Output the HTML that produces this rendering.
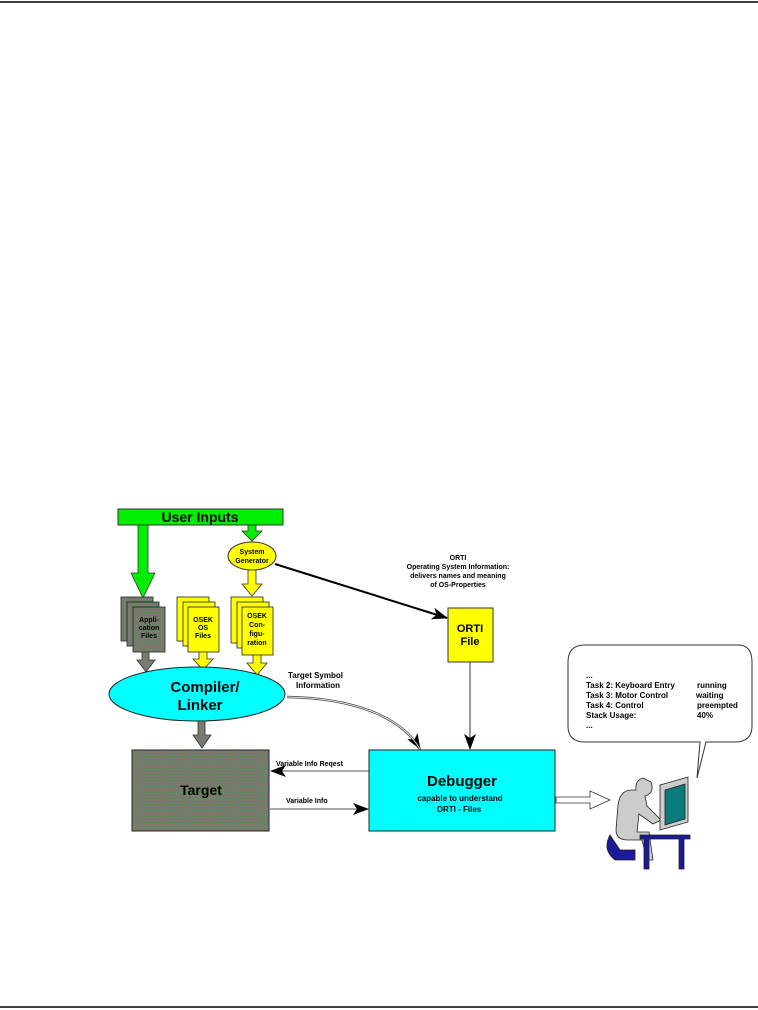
<!DOCTYPE html>
<html><head><style>body{margin:0;background:#fff}svg{display:block}text{font-family:"Liberation Sans",sans-serif;font-weight:bold}</style></head>
<body>
<svg width="758" height="1010" viewBox="0 0 758 1010" xmlns="http://www.w3.org/2000/svg">
<defs>
<pattern id="dots" width="3" height="3" patternUnits="userSpaceOnUse"><rect width="3" height="3" fill="#7a7a70"/><rect width="1" height="1" fill="#3a9a3a"/></pattern>
<marker id="ah" markerWidth="10" markerHeight="8" refX="9" refY="4" orient="auto" markerUnits="userSpaceOnUse"><path d="M0,0 L10,4 L0,8 L3,4z" fill="#000"/></marker>
<marker id="ahb" markerWidth="16" markerHeight="12" refX="15" refY="6" orient="auto" markerUnits="userSpaceOnUse"><path d="M0,0 L16,6 L0,12 L4,6z" fill="#000"/></marker>
</defs>
<line x1="0" y1="2" x2="758" y2="2" stroke="#000" stroke-width="1.5"/>
<line x1="0" y1="1007" x2="758" y2="1007" stroke="#000" stroke-width="1.5"/>

<!-- User Inputs -->
<rect x="118" y="509" width="165" height="16" fill="#00ee00" stroke="#333"/>
<text x="200" y="522" font-size="14" text-anchor="middle">User Inputs</text>
<path d="M138,525 h10 v48 h7 l-12,25 l-12,-25 h7z" fill="#00ee00" stroke="#333" stroke-width="0.8"/>
<path d="M248,525 h8 v6 h6 l-10,10 l-10,-10 h6z" fill="#00ee00" stroke="#333" stroke-width="0.8"/>
<ellipse cx="252" cy="556" rx="24" ry="14" fill="#ffff00" stroke="#333"/>
<text x="252" y="554" font-size="7" text-anchor="middle" font-weight="normal">System</text>
<text x="252" y="563" font-size="7" text-anchor="middle" font-weight="normal">Generator</text>
<path d="M248,570 h8 v14 h6 l-10,12 l-10,-12 h6z" fill="#ffff00" stroke="#333" stroke-width="0.8"/>

<!-- App files -->
<g stroke="#222" stroke-width="0.8">
<rect x="121" y="597" width="32" height="44" fill="url(#dots)"/>
<rect x="127" y="602" width="32" height="44" fill="url(#dots)"/>
<rect x="133" y="607" width="32" height="45" fill="url(#dots)"/>
<rect x="177" y="597" width="32" height="44" fill="#ffff00"/>
<rect x="183" y="602" width="32" height="44" fill="#ffff00"/>
<rect x="188" y="607" width="31" height="45" fill="#ffff00"/>
<rect x="231" y="597" width="32" height="46" fill="#ffff00"/>
<rect x="237" y="602" width="32" height="46" fill="#ffff00"/>
<rect x="242" y="607" width="31" height="48" fill="#ffff00"/>
</g>
<g font-size="7" text-anchor="middle">
<text x="149" y="622">Appli-</text><text x="149" y="630">cation</text><text x="149" y="638">Files</text>
<text x="203" y="622">OSEK</text><text x="203" y="630">OS</text><text x="203" y="638">Files</text>
<text x="257" y="618">OSEK</text><text x="257" y="627">Con-</text><text x="257" y="636">figu-</text><text x="257" y="645">ration</text>
</g>
<path d="M142,652 h7 v8 h6 l-9,12 l-9,-12 h5z" fill="#7a7a70" stroke="#333" stroke-width="0.8"/>
<path d="M199,652 h8 v7 h6 l-10,11 l-10,-11 h6z" fill="#ffff00" stroke="#333" stroke-width="0.8"/>
<path d="M253,655 h8 v8 h6 l-10,12 l-10,-12 h6z" fill="#ffff00" stroke="#333" stroke-width="0.8"/>

<ellipse cx="197" cy="694" rx="88" ry="27" fill="#00ffff" stroke="#222"/>
<text x="205" y="692" font-size="15" text-anchor="middle">Compiler/</text>
<text x="200" y="710" font-size="15" text-anchor="middle">Linker</text>
<path d="M198,721 h7 v14 h6 l-9,13 l-9,-13 h5z" fill="#7a7a70" stroke="#333" stroke-width="0.8"/>

<rect x="132" y="750" width="137" height="81" fill="url(#dots)" stroke="#222"/>
<text x="201" y="795" font-size="14" text-anchor="middle">Target</text>

<rect x="369" y="750" width="186" height="81" fill="#00ffff" stroke="#222"/>
<text x="462" y="786" font-size="15" text-anchor="middle">Debugger</text>
<text x="460" y="801" font-size="8" text-anchor="middle">capable to understand</text>
<text x="459" y="812" font-size="8" text-anchor="middle">ORTI - Files</text>

<text x="288" y="678" font-size="8">Target Symbol</text>
<text x="296" y="688" font-size="8">Information</text>
<path d="M287,697 C350,698 400,715 420,749" fill="none" stroke="#555" stroke-width="2.5" marker-end="url(#ahb)"/>
<path d="M287,697 C350,698 400,715 420,749" fill="none" stroke="#fff" stroke-width="0.8"/>

<line x1="275" y1="564" x2="447" y2="618" stroke="#000" stroke-width="2" marker-end="url(#ahb)"/>
<g font-size="7" text-anchor="middle" font-weight="normal">
<text x="458" y="560">ORTI</text>
<text x="458" y="569">Operating System Information:</text>
<text x="458" y="578" font-weight="bold">delivers names and meaning</text>
<text x="458" y="587" font-weight="bold">of OS-Properties</text>
</g>
<rect x="448" y="608" width="45" height="54" fill="#ffff00" stroke="#333"/>
<text x="470" y="632" font-size="11" text-anchor="middle">ORTI</text>
<text x="470" y="645" font-size="11" text-anchor="middle">File</text>
<line x1="470" y1="662" x2="470" y2="749" stroke="#555" stroke-width="1.2" marker-end="url(#ahb)"/>

<line x1="369" y1="771" x2="271" y2="771" stroke="#555" stroke-width="1" marker-end="url(#ahb)"/>
<text x="276" y="766" font-size="7">Variable Info Reqest</text>
<line x1="270" y1="809" x2="368" y2="809" stroke="#555" stroke-width="1" marker-end="url(#ahb)"/>
<text x="286" y="803" font-size="7">Variable Info</text>

<path d="M556,797 h34 v-6 l20,9 l-20,9 v-6 h-34z" fill="#fff" stroke="#333" stroke-width="0.8"/>

<!-- bubble -->
<path d="M585,645 H738 Q752,645 752,662 V726 Q752,742 735,742 H706 L697,778 L700,742 H585 Q568,742 568,726 V662 Q568,645 585,645z" fill="#fff" stroke="#333"/>
<g font-size="8" font-weight="normal">
<text x="586" y="678">...</text>
<text x="586" y="688">Task 2: Keyboard Entry</text><text x="697" y="688">running</text>
<text x="586" y="698">Task 3: Motor Control</text><text x="696" y="698">waiting</text>
<text x="586" y="708">Task 4: Control</text><text x="697" y="708">preempted</text>
<text x="586" y="718">Stack Usage:</text><text x="697" y="718">40%</text>
<text x="586" y="728">...</text>
</g>
<!-- person -->
<g stroke="#222" stroke-width="0.8">
<path d="M610,835 q-8,15 5,25 h20 v-10 h-15z" fill="#1a1a9a"/>
<path d="M632,790 q-12,0 -14,15 l-2,25 q0,10 12,10 h14 l5,20 h6 l-4,-28 h-12 l2,-18 l14,10 l8,-4 l-14,-14 l-2,-10 q10,-3 6,-14 l-8,-4 q-8,2 -7,12z" fill="#ccc"/>
<path d="M660,785 l28,-8 v45 l-28,8z" fill="#ccc"/>
<path d="M665,790 l20,-6 v35 l-20,6z" fill="#0a7a7a"/>
<path d="M640,835 h50 v4 h-6 v30 h-5 v-30 h-30 v30 h-5 v-30 h-4z" fill="#1a1a9a"/>
</g>
</svg>
</body></html>
